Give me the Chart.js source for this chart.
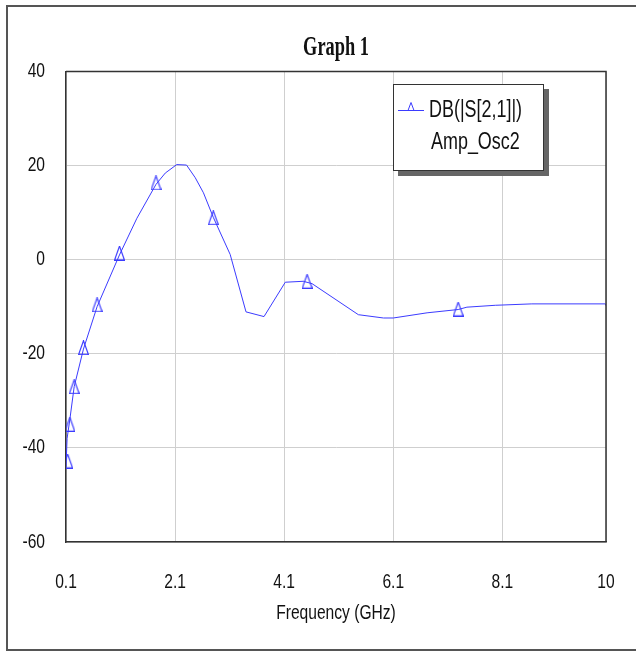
<!DOCTYPE html>
<html>
<head>
<meta charset="utf-8">
<script src="https://cdn.jsdelivr.net/npm/chart.js@4/dist/chart.umd.min.js"></script>
<style>
    body { margin: 0; background: #fff; }
    #wrap { position: relative; width: 636px; height: 651px; overflow: hidden; }
    #frame {
        position: absolute; left: 6px; top: 5px; width: 640px; height: 642px;
        border-left: 2px solid #555; border-top: 2px solid #555; border-bottom: 2px solid #555;
        pointer-events: none;
    }
    #legend {
        position: absolute; left: 393px; top: 84px; width: 149px; height: 85px;
        border: 1px solid #333; background: #fff;
        box-shadow: 5px 5px 0 #666;
        font-family: 'Liberation Sans', Arial, sans-serif;
        font-size: 23px; line-height: 23px; color: #111;
    }
    #legend span {
        position: absolute; white-space: nowrap;
        transform: scaleX(0.78); transform-origin: 0 0;
    }
    #legend .row1 { left: 35px; top: 13px; }
    #legend .row2 { left: 37px; top: 45px; }
    #legend canvas { position: absolute; left: 4px; top: 14px; }
</style>
</head>
<body>
<div id="wrap">
    <canvas id="chart" width="636" height="651"></canvas>
    <div id="frame"></div>
    <div id="legend">
        <canvas id="legendMark" width="26" height="14"></canvas>
        <span class="row1">DB(|S[2,1]|)</span>
        <span class="row2">Amp_Osc2</span>
    </div>
</div>
<script>
const lineColor = '#3b3bff';
const sansFont = "'Liberation Sans', Arial, sans-serif";
const squeeze = 0.78; // text in the picture is narrow
const titleSqueeze = 0.68;

// curve (GHz, dB)
const freq = [0.10, 0.12, 0.17, 0.25, 0.42, 0.67, 1.08, 1.40, 1.75, 1.92, 2.13, 2.31, 2.47, 2.62, 2.80,
    3.11, 3.40, 3.73, 4.12, 4.45, 4.61, 5.46, 5.92, 6.10, 6.72, 7.29, 7.45, 7.97, 8.64, 9.99, 10.0];
const db = [-44, -38, -34, -27, -19, -10, 1, 8.8, 16, 18.4, 20.2, 20.1, 17.4, 14.2, 9,
    1.1, -11.1, -12.1, -4.8, -4.6, -5.1, -11.7, -12.4, -12.4, -11.3, -10.6, -10.1, -9.7, -9.4, -9.4, -9.8];

// triangle markers
const markFreq = [0.13, 0.17, 0.25, 0.42, 0.67, 1.08, 1.75, 2.80, 4.52, 7.29];
const markDb = [-42.8, -35, -27, -18.7, -9.6, 1.4, 16.3, 8.9, -4.6, -10.5];

const xTicks = [0.1, 2.1, 4.1, 6.1, 8.1, 10];
const yTicks = [-60, -40, -20, 0, 20, 40];

const curve = freq.map((f, i) => ({ x: f, y: db[i] }));
const marks = markFreq.map((f, i) => ({ x: f, y: markDb[i] }));

// tall thin triangle used as marker
const tri = document.createElement('canvas');
tri.width = 11;
tri.height = 15;
const tc = tri.getContext('2d');
tc.strokeStyle = lineColor;
tc.lineWidth = 1.2;
tc.beginPath();
tc.moveTo(0.6, 14.4); tc.lineTo(5.5, 0.6); tc.lineTo(10.4, 14.4); tc.closePath();
tc.stroke();

// small sample for the html legend
const lm = document.getElementById('legendMark').getContext('2d');
lm.strokeStyle = lineColor;
lm.lineWidth = 1;
lm.beginPath();
lm.moveTo(0, 11.5); lm.lineTo(26, 11.5);
lm.moveTo(10, 11.5); lm.lineTo(13, 3.5); lm.lineTo(16, 11.5);
lm.stroke();

const narrowText = {
    id: 'narrowText',
    beforeDraw: chart => {
        const c = chart.ctx;
        if (c._narrow) return;
        const orig = c.fillText.bind(c);
        c.fillText = (text, x, y, maxWidth) => {
            const k = c.font.indexOf('Serif') >= 0 ? titleSqueeze : squeeze;
            c.save();
            c.translate(x, y);
            c.scale(k, 1);
            orig(text, 0, 0);
            c.restore();
        };
        c._narrow = true;
    }
};

const plotBorder = {
    id: 'plotBorder',
    afterDraw: chart => {
        const a = chart.chartArea;
        const c = chart.ctx;
        c.save();
        c.strokeStyle = '#333';
        c.lineWidth = 1.5;
        c.beginPath();
        c.moveTo(a.left, a.top);
        c.lineTo(a.right, a.top);
        c.lineTo(a.right, a.bottom);
        c.stroke();
        c.restore();
    }
};

const ctx = document.getElementById('chart').getContext('2d');
new Chart(ctx, {
    type: 'line',
    data: {
        datasets: [
            {
                data: curve,
                borderColor: lineColor,
                borderWidth: 1,
                pointRadius: 0,
                tension: 0,
                fill: false
            },
            {
                data: marks,
                showLine: false,
                pointStyle: tri,
                pointRadius: 6,
                borderColor: lineColor
            }
        ]
    },
    options: {
        responsive: false,
        animation: false,
        layout: { padding: { left: 0, right: 30, top: 0, bottom: 0 } },
        plugins: {
            legend: { display: false },
            tooltip: { enabled: false },
            title: {
                display: true,
                fullSize: false,
                text: 'Graph 1',
                color: '#111',
                font: { family: "'Liberation Serif', 'Times New Roman', serif", size: 27, weight: 'bold' },
                padding: { top: 32, bottom: 7 }
            }
        },
        scales: {
            x: {
                type: 'linear',
                min: 0.1,
                max: 10,
                afterBuildTicks: scale => {
                    scale.ticks = xTicks.map(v => ({ value: v }));
                },
                afterFit: scale => {
                    scale.height = 109;
                    scale.paddingLeft = 0;
                    scale.paddingRight = 0;
                },
                ticks: {
                    color: '#111',
                    font: { family: sansFont, size: 20 },
                    padding: 28,
                    maxRotation: 0,
                    autoSkip: false,
                    callback: v => String(v)
                },
                grid: { color: '#cfcfcf', lineWidth: 1, drawTicks: false },
                border: { color: '#333', width: 1.5 },
                title: {
                    display: true,
                    text: 'Frequency (GHz)',
                    color: '#111',
                    font: { family: sansFont, size: 20 },
                    padding: { top: 0, bottom: 26 }
                }
            },
            y: {
                min: -60,
                max: 40,
                afterBuildTicks: scale => {
                    scale.ticks = yTicks.map(v => ({ value: v }));
                },
                afterFit: scale => { scale.width = 66; },
                ticks: {
                    color: '#111',
                    font: { family: sansFont, size: 20 },
                    padding: 21
                },
                grid: { color: '#cfcfcf', lineWidth: 1, drawTicks: false },
                border: { color: '#333', width: 1.5 }
            }
        }
    },
    plugins: [narrowText, plotBorder]
});
</script>
</body>
</html>
